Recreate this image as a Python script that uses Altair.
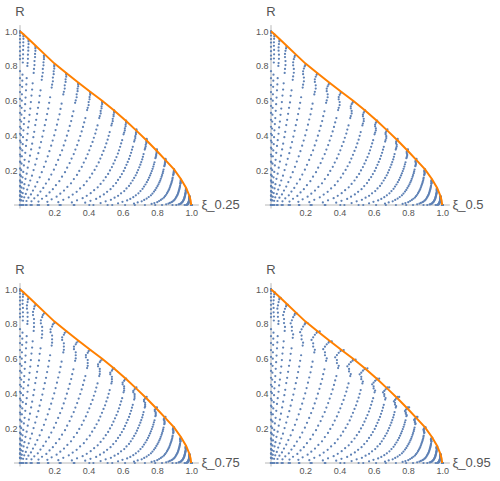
import altair as alt
import pandas as pd

BLUE = "#5E81B5"
ORANGE = "#FF8000"
AXIS = "#b8b8b8"
LABEL = "#555555"
FONT = "Liberation Sans"

panel_labels = ["ξ_0.25", "ξ_0.5", "ξ_0.75", "ξ_0.95"]
tick_values = [0.2, 0.4, 0.6, 0.8, 1.0]

# orange boundary curve (xi, R)
edge_x = [0, 0.02, 0.05, 0.09, 0.14, 0.20, 0.27, 0.34, 0.41, 0.48, 0.55, 0.62, 0.68, 0.74, 0.80, 0.85, 0.90, 0.94, 0.97, 0.99, 0.997, 1.0]
edge_r = [1.0, 0.982, 0.955, 0.918, 0.871, 0.815, 0.759, 0.705, 0.652, 0.600, 0.544, 0.483, 0.428, 0.371, 0.311, 0.258, 0.205, 0.150, 0.100, 0.052, 0.025, 0.0]

# curve tips (on the boundary), one per blue curve
tip_x = [0, 0.02, 0.05, 0.09, 0.14, 0.20, 0.27, 0.34, 0.41, 0.48, 0.55, 0.62, 0.68, 0.74, 0.80, 0.85, 0.90, 0.94, 0.97, 0.99, 1.0]
tip_r = [1.0, 0.98, 0.95, 0.91, 0.86, 0.805, 0.757, 0.70, 0.65, 0.595, 0.545, 0.485, 0.435, 0.38, 0.32, 0.265, 0.205, 0.145, 0.095, 0.05, 0.0]

# xi of the points just below the tips (the hooks)
hx_a = [0, 0.0192, 0.0485, 0.0879, 0.1373, 0.1968, 0.2665, 0.3364, 0.4064, 0.4765, 0.5467, 0.617, 0.6774, 0.7378, 0.7982, 0.8486, 0.8991, 0.9394, 0.9697, 0.9899, 1]
hx_b = [0, 0.0181, 0.0464, 0.0847, 0.1333, 0.1921, 0.2613, 0.331, 0.401, 0.4713, 0.5418, 0.6126, 0.6735, 0.7344, 0.7956, 0.8465, 0.8976, 0.9385, 0.9693, 0.9898, 1]
hx_c = [0, 0.0171, 0.0444, 0.0817, 0.1294, 0.1875, 0.2562, 0.3256, 0.3956, 0.4661, 0.537, 0.6083, 0.6696, 0.7311, 0.7929, 0.8445, 0.8962, 0.9377, 0.9688, 0.9896, 1]
hx_d = [0, 0.0152, 0.0405, 0.0761, 0.122, 0.1787, 0.2464, 0.3153, 0.3852, 0.456, 0.5274, 0.5996, 0.6619, 0.7245, 0.7876, 0.8404, 0.8934, 0.9359, 0.968, 0.9893, 1]
hx_e = [0, 0.0135, 0.0371, 0.0708, 0.115, 0.1703, 0.2368, 0.3052, 0.375, 0.446, 0.518, 0.591, 0.6542, 0.718, 0.7824, 0.8362, 0.8906, 0.9342, 0.9671, 0.989, 1]
hx_f = [0, 0.0234, 0.0564, 0.0991, 0.1514, 0.2133, 0.2845, 0.355, 0.4249, 0.4943, 0.5633, 0.632, 0.6906, 0.749, 0.8071, 0.8556, 0.9038, 0.9423, 0.9712, 0.9904, 1]

# R of the points just below the tips
hr_990 = [0.99, 0.970, 0.941, 0.901, 0.851, 0.797, 0.749, 0.693, 0.644, 0.589, 0.540, 0.480, 0.431, 0.376, 0.317, 0.262, 0.203, 0.144, 0.094, 0.050, 0]
hr_975 = [0.975, 0.956, 0.926, 0.887, 0.839, 0.785, 0.738, 0.683, 0.634, 0.580, 0.531, 0.473, 0.424, 0.371, 0.312, 0.258, 0.200, 0.141, 0.093, 0.049, 0]
hr_955 = [0.955, 0.936, 0.907, 0.869, 0.821, 0.769, 0.723, 0.669, 0.621, 0.568, 0.520, 0.463, 0.415, 0.363, 0.306, 0.253, 0.196, 0.138, 0.091, 0.048, 0]
hr_935 = [0.935, 0.916, 0.888, 0.851, 0.804, 0.753, 0.708, 0.655, 0.608, 0.556, 0.510, 0.453, 0.407, 0.355, 0.299, 0.248, 0.192, 0.136, 0.089, 0.047, 0]
hr_910 = [0.91, 0.892, 0.865, 0.828, 0.783, 0.733, 0.689, 0.637, 0.592, 0.541, 0.496, 0.441, 0.396, 0.346, 0.291, 0.241, 0.187, 0.132, 0.086, 0.046, 0]
hr_885 = [0.885, 0.867, 0.841, 0.805, 0.761, 0.712, 0.670, 0.620, 0.575, 0.527, 0.482, 0.429, 0.385, 0.336, 0.283, 0.235, 0.181, 0.128, 0.084, 0.044, 0]
hr_860 = [0.86, 0.843, 0.817, 0.783, 0.740, 0.692, 0.651, 0.602, 0.559, 0.512, 0.469, 0.417, 0.374, 0.327, 0.275, 0.228, 0.176, 0.125, 0.082, 0.043, 0]

# lower rows of points (same look in all four panels)
low_x = [
    [0, 0.0164, 0.043, 0.080, 0.127, 0.185, 0.253, 0.322, 0.392, 0.463, 0.534, 0.605, 0.667, 0.729, 0.791, 0.843, 0.895, 0.937, 0.9685, 0.9895, 1],
    [0, 0.0146, 0.039, 0.074, 0.120, 0.176, 0.243, 0.312, 0.382, 0.453, 0.524, 0.597, 0.659, 0.722, 0.786, 0.839, 0.892, 0.935, 0.968, 0.989, 1],
    [0, 0.0135, 0.0371, 0.0708, 0.115, 0.1703, 0.2368, 0.3052, 0.375, 0.446, 0.518, 0.591, 0.6542, 0.718, 0.7824, 0.8362, 0.8906, 0.9342, 0.9671, 0.989, 1],
    [0, 0.0125, 0.035, 0.067, 0.111, 0.165, 0.231, 0.299, 0.368, 0.440, 0.512, 0.585, 0.649, 0.714, 0.779, 0.834, 0.889, 0.933, 0.9665, 0.9888, 1],
    [0, 0.0113, 0.0324, 0.0635, 0.1053, 0.1584, 0.2233, 0.2907, 0.3603, 0.4315, 0.5044, 0.5785, 0.643, 0.7083, 0.7746, 0.830, 0.8864, 0.9316, 0.9658, 0.9886, 1],
    [0, 0.0103, 0.030, 0.060, 0.100, 0.152, 0.216, 0.283, 0.352, 0.424, 0.497, 0.572, 0.637, 0.703, 0.770, 0.827, 0.884, 0.930, 0.965, 0.9883, 1],
    [0, 0.0092, 0.0275, 0.0556, 0.0945, 0.145, 0.208, 0.274, 0.343, 0.414, 0.488, 0.5635, 0.6295, 0.6968, 0.765, 0.8227, 0.8813, 0.9284, 0.9642, 0.988, 1],
    [0, 0.0081, 0.025, 0.052, 0.089, 0.138, 0.200, 0.265, 0.334, 0.405, 0.479, 0.555, 0.622, 0.690, 0.760, 0.819, 0.878, 0.927, 0.963, 0.9877, 1],
    [0, 0.0071, 0.0226, 0.0476, 0.0832, 0.1306, 0.1909, 0.2555, 0.3237, 0.3952, 0.4694, 0.5462, 0.6139, 0.6833, 0.7541, 0.814, 0.8753, 0.9247, 0.9623, 0.9874, 1],
    [0, 0.0062, 0.020, 0.044, 0.078, 0.123, 0.182, 0.246, 0.314, 0.385, 0.460, 0.537, 0.606, 0.676, 0.748, 0.809, 0.872, 0.923, 0.961, 0.987, 1],
    [0, 0.0052, 0.0178, 0.0392, 0.0711, 0.1148, 0.1719, 0.2343, 0.3014, 0.3726, 0.4475, 0.5258, 0.5952, 0.667, 0.7408, 0.8035, 0.868, 0.9201, 0.96, 0.9866, 1],
    [0, 0.0043, 0.016, 0.035, 0.065, 0.107, 0.162, 0.223, 0.290, 0.361, 0.436, 0.515, 0.585, 0.658, 0.733, 0.797, 0.864, 0.918, 0.959, 0.986, 1],
    [0, 0.0035, 0.0132, 0.0308, 0.0584, 0.0977, 0.1508, 0.2104, 0.2756, 0.3463, 0.4215, 0.5012, 0.5727, 0.6472, 0.7245, 0.7905, 0.859, 0.9144, 0.957, 0.9856, 1],
    [0, 0.0028, 0.011, 0.027, 0.052, 0.089, 0.140, 0.198, 0.263, 0.333, 0.408, 0.488, 0.561, 0.637, 0.716, 0.783, 0.854, 0.911, 0.955, 0.985, 1],
    [0, 0.0021, 0.0089, 0.0225, 0.0452, 0.0793, 0.1272, 0.1828, 0.2455, 0.3147, 0.39, 0.471, 0.5447, 0.6223, 0.7038, 0.774, 0.8473, 0.907, 0.9534, 0.9843, 1],
    [0, 0.0016, 0.007, 0.019, 0.039, 0.070, 0.115, 0.169, 0.230, 0.298, 0.373, 0.454, 0.529, 0.609, 0.692, 0.765, 0.841, 0.903, 0.951, 0.9836, 1],
    [0, 0.0011, 0.0053, 0.0148, 0.032, 0.0598, 0.1012, 0.1514, 0.21, 0.2768, 0.3512, 0.4332, 0.509, 0.5904, 0.6768, 0.7522, 0.8319, 0.8973, 0.9484, 0.9826, 1],
    [0, 0.001, 0.004, 0.012, 0.026, 0.051, 0.089, 0.136, 0.192, 0.257, 0.331, 0.413, 0.490, 0.573, 0.662, 0.740, 0.823, 0.891, 0.945, 0.9816, 1],
    [0, 0.0005, 0.0027, 0.0087, 0.0208, 0.042, 0.0758, 0.1194, 0.1726, 0.2355, 0.308, 0.390, 0.4676, 0.5526, 0.6444, 0.7257, 0.8128, 0.8852, 0.9413, 0.9804, 1],
    [0, 0.0004, 0.002, 0.0064, 0.016, 0.034, 0.064, 0.104, 0.154, 0.214, 0.285, 0.366, 0.445, 0.531, 0.626, 0.711, 0.802, 0.876, 0.938, 0.979, 1],
    [0, 0.0001, 0.001, 0.0039, 0.0109, 0.0247, 0.0492, 0.0836, 0.1286, 0.1849, 0.2529, 0.3332, 0.4117, 0.5005, 0.5986, 0.6877, 0.7852, 0.8672, 0.9329, 0.9771, 1],
    [0, 0, 0.0004, 0.0024, 0.0073, 0.018, 0.038, 0.067, 0.108, 0.160, 0.224, 0.303, 0.381, 0.471, 0.573, 0.666, 0.769, 0.854, 0.927, 0.975, 1],
    [0, 0, 0, 0.0007, 0.0027, 0.008, 0.0197, 0.039, 0.069, 0.111, 0.166, 0.238, 0.314, 0.405, 0.512, 0.614, 0.730, 0.830, 0.913, 0.970, 1],
    [0, 0, 0, 0, 0.0006, 0.0022, 0.0069, 0.0166, 0.034, 0.0615, 0.103, 0.163, 0.231, 0.318, 0.429, 0.539, 0.671, 0.790, 0.891, 0.962, 1],
]
low_r = [
    [0.84, 0.82, 0.80, 0.76, 0.72, 0.676, 0.636, 0.588, 0.546, 0.50, 0.458, 0.407, 0.365, 0.319, 0.269, 0.223, 0.172, 0.122, 0.080, 0.042, 0],
    [0.77, 0.75, 0.73, 0.70, 0.66, 0.62, 0.583, 0.539, 0.50, 0.458, 0.42, 0.373, 0.335, 0.293, 0.246, 0.204, 0.158, 0.112, 0.073, 0.0385, 0],
    [0.73, 0.715, 0.694, 0.664, 0.628, 0.588, 0.553, 0.511, 0.475, 0.434, 0.398, 0.354, 0.318, 0.277, 0.234, 0.193, 0.150, 0.106, 0.069, 0.0365, 0],
    [0.69, 0.68, 0.66, 0.63, 0.59, 0.555, 0.522, 0.483, 0.449, 0.411, 0.376, 0.335, 0.300, 0.262, 0.221, 0.183, 0.141, 0.100, 0.066, 0.0345, 0],
    [0.65, 0.637, 0.618, 0.592, 0.559, 0.523, 0.492, 0.455, 0.423, 0.387, 0.354, 0.315, 0.283, 0.247, 0.208, 0.172, 0.133, 0.094, 0.062, 0.0325, 0],
    [0.61, 0.60, 0.58, 0.555, 0.525, 0.49, 0.462, 0.427, 0.397, 0.363, 0.332, 0.296, 0.265, 0.232, 0.195, 0.162, 0.125, 0.088, 0.058, 0.0305, 0],
    [0.57, 0.559, 0.542, 0.519, 0.490, 0.459, 0.431, 0.399, 0.371, 0.339, 0.311, 0.276, 0.248, 0.217, 0.182, 0.151, 0.117, 0.083, 0.054, 0.0285, 0],
    [0.53, 0.52, 0.50, 0.48, 0.46, 0.427, 0.401, 0.371, 0.345, 0.315, 0.289, 0.257, 0.231, 0.201, 0.170, 0.140, 0.109, 0.077, 0.050, 0.0265, 0],
    [0.49, 0.480, 0.466, 0.446, 0.421, 0.394, 0.371, 0.343, 0.319, 0.292, 0.267, 0.238, 0.213, 0.186, 0.157, 0.130, 0.100, 0.071, 0.047, 0.0245, 0],
    [0.45, 0.44, 0.43, 0.41, 0.39, 0.362, 0.341, 0.315, 0.293, 0.268, 0.245, 0.218, 0.196, 0.171, 0.144, 0.119, 0.092, 0.065, 0.043, 0.0225, 0],
    [0.41, 0.402, 0.390, 0.373, 0.353, 0.330, 0.310, 0.287, 0.267, 0.244, 0.223, 0.199, 0.178, 0.156, 0.131, 0.109, 0.084, 0.059, 0.039, 0.0205, 0],
    [0.37, 0.36, 0.35, 0.34, 0.32, 0.298, 0.280, 0.259, 0.241, 0.220, 0.202, 0.179, 0.161, 0.141, 0.118, 0.098, 0.076, 0.054, 0.035, 0.0185, 0],
    [0.33, 0.323, 0.314, 0.300, 0.284, 0.266, 0.250, 0.231, 0.215, 0.196, 0.180, 0.160, 0.144, 0.125, 0.106, 0.087, 0.068, 0.048, 0.031, 0.0165, 0],
    [0.29, 0.28, 0.28, 0.26, 0.25, 0.233, 0.220, 0.203, 0.189, 0.173, 0.158, 0.141, 0.126, 0.110, 0.093, 0.077, 0.059, 0.042, 0.028, 0.0145, 0],
    [0.25, 0.245, 0.238, 0.228, 0.215, 0.201, 0.189, 0.175, 0.163, 0.149, 0.136, 0.121, 0.109, 0.095, 0.080, 0.066, 0.051, 0.036, 0.024, 0.0125, 0],
    [0.21, 0.21, 0.20, 0.19, 0.18, 0.169, 0.159, 0.147, 0.137, 0.125, 0.114, 0.102, 0.091, 0.080, 0.067, 0.056, 0.043, 0.030, 0.020, 0.0105, 0],
    [0.175, 0.172, 0.166, 0.159, 0.151, 0.141, 0.132, 0.123, 0.114, 0.104, 0.095, 0.085, 0.076, 0.067, 0.056, 0.046, 0.036, 0.025, 0.017, 0.009, 0],
    [0.14, 0.14, 0.13, 0.13, 0.12, 0.113, 0.106, 0.098, 0.091, 0.083, 0.076, 0.068, 0.061, 0.053, 0.045, 0.037, 0.029, 0.020, 0.013, 0.007, 0],
    [0.11, 0.108, 0.105, 0.100, 0.095, 0.089, 0.083, 0.077, 0.072, 0.065, 0.060, 0.053, 0.048, 0.042, 0.035, 0.029, 0.023, 0.016, 0.010, 0.0055, 0],
    [0.08, 0.08, 0.076, 0.073, 0.069, 0.064, 0.061, 0.056, 0.052, 0.048, 0.044, 0.039, 0.035, 0.030, 0.026, 0.021, 0.016, 0.012, 0.0076, 0.004, 0],
    [0.055, 0.054, 0.052, 0.050, 0.047, 0.044, 0.042, 0.0385, 0.036, 0.033, 0.030, 0.027, 0.024, 0.021, 0.018, 0.015, 0.011, 0.008, 0.005, 0.003, 0],
    [0.03, 0.03, 0.029, 0.027, 0.026, 0.024, 0.023, 0.021, 0.0195, 0.018, 0.016, 0.015, 0.013, 0.011, 0.0096, 0.008, 0.006, 0.004, 0.003, 0.0015, 0],
    [0] * 21,
    [0] * 21,
]

# which hook rows belong to which panel
panel_hooks = [
    [(tip_x, tip_r), (tip_x, hr_990), (tip_x, hr_975), (hx_a, hr_955), (hx_a, hr_935),
     (hx_b, hr_910), (hx_b, hr_885), (hx_c, hr_860)],
    [(tip_x, tip_r), (hx_a, hr_990), (hx_b, hr_975), (hx_c, hr_955), (hx_c, hr_935),
     (hx_b, hr_910), (hx_b, hr_885), (hx_c, hr_860)],
    [(tip_x, tip_r), (hx_b, hr_990), (hx_c, hr_975), (hx_d, hr_955), (hx_d, hr_935),
     (hx_c, hr_910), (hx_c, hr_885), (hx_c, hr_860)],
    [(tip_x, tip_r), (hx_f, tip_r), (hx_a, hr_990), (hx_c, hr_975), (hx_d, hr_955),
     (hx_e, hr_935), (hx_d, hr_910), (hx_d, hr_885), (hx_c, hr_860)],
]


def points_frame(hooks):
    recs = []
    for xs, rs in list(hooks) + list(zip(low_x, low_r)):
        for x, r in zip(xs, rs):
            recs.append({"xi": x, "R": r})
    return pd.DataFrame(recs)


edge_df = pd.DataFrame({"xi": edge_x, "R": edge_r})
one_row = alt.Data(values=[{"k": 0}])

W, H = 178, 179
xs = alt.Scale(domain=[0, 1.04], nice=False, zero=False)
ys = alt.Scale(domain=[0, 1.03], nice=False, zero=False)


def panel(hooks, label):
    pts = alt.Chart(points_frame(hooks)).mark_circle(size=5, color=BLUE, opacity=1).encode(
        x=alt.X("xi:Q", scale=xs, axis=alt.Axis(values=tick_values, format=".1f", title=None)),
        y=alt.Y("R:Q", scale=ys, axis=alt.Axis(values=tick_values, format=".1f", title=None)),
    )
    xaxis = alt.Chart(one_row).mark_rule(color=AXIS, strokeWidth=1).encode(
        x=alt.datum(-0.035), x2=alt.datum(1.045), y=alt.datum(0)
    )
    yaxis = alt.Chart(one_row).mark_rule(color=AXIS, strokeWidth=1).encode(
        y=alt.datum(-0.02), y2=alt.datum(1.035), x=alt.datum(0)
    )
    edge = alt.Chart(edge_df).mark_line(color=ORANGE, strokeWidth=2).encode(
        x=alt.X("xi:Q", scale=xs), y=alt.Y("R:Q", scale=ys)
    )
    rlab = alt.Chart(one_row).mark_text(
        text="R", fontSize=13, color=LABEL, font=FONT, align="center", baseline="middle"
    ).encode(x=alt.datum(0), y=alt.datum(1.11))
    xlab = alt.Chart(one_row).mark_text(
        text=label, fontSize=13, color=LABEL, font=FONT, align="left", baseline="middle"
    ).encode(x=alt.datum(1.06), y=alt.datum(0))
    return alt.layer(xaxis, yaxis, pts, edge, rlab, xlab).properties(width=W, height=H)


panels = [panel(h, l) for h, l in zip(panel_hooks, panel_labels)]

chart = alt.vconcat(
    alt.hconcat(panels[0], panels[1], spacing=15),
    alt.hconcat(panels[2], panels[3], spacing=15),
    spacing=47,
).properties(
    padding={"left": 4, "top": 6, "right": 0, "bottom": 0},
    background="white",
).configure_view(stroke=None).configure_axis(
    domain=False, ticks=False, grid=False, labelFontSize=9, labelColor=LABEL,
    labelFont=FONT, labelPadding=3,
)

chart.save("out.html", embed_options={"renderer": "svg", "actions": False})
